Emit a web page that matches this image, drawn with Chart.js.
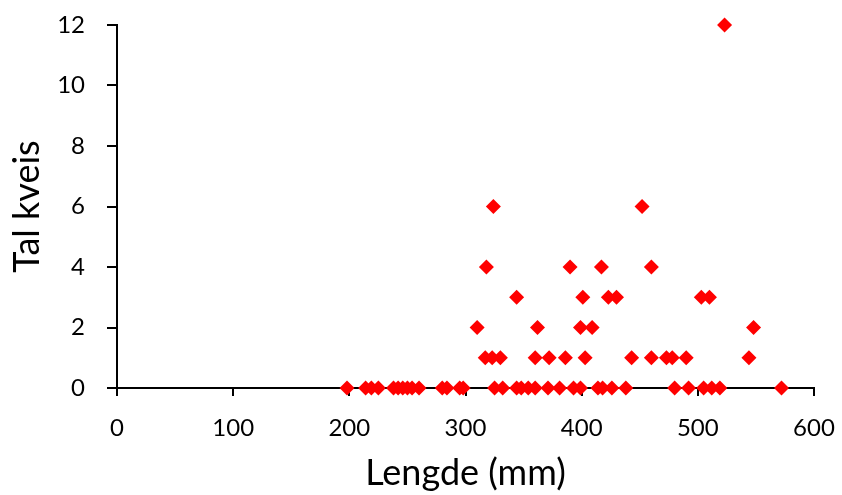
<!DOCTYPE html>
<html>
<head>
<meta charset="utf-8">
<script src="https://cdn.jsdelivr.net/npm/chart.js@4/dist/chart.umd.min.js"></script>
<style>
  html, body { margin: 0; padding: 0; background: #fff; }
</style>
</head>
<body>
<canvas id="kveis" width="842" height="495"></canvas>
<script>
// length of fish (mm) and number of worms found
const lengthMm = [
  198, 214, 219, 225, 238, 242, 246, 250, 254, 260, 280, 284, 295, 298,
  325, 332, 344, 348, 354, 360, 371, 381, 393, 399, 414, 418, 426, 438,
  480, 492, 505, 512, 519, 572,
  317, 323, 330, 360, 372, 386, 403, 443, 460, 473, 478, 490, 544,
  310, 362, 399, 409, 548,
  344, 401, 423, 430, 503, 510,
  318, 390, 417, 460,
  324, 452,
  523
]
const wormCount = [
  0, 0, 0, 0, 0, 0, 0, 0, 0, 0, 0, 0, 0, 0,
  0, 0, 0, 0, 0, 0, 0, 0, 0, 0, 0, 0, 0, 0,
  0, 0, 0, 0, 0, 0,
  1, 1, 1, 1, 1, 1, 1, 1, 1, 1, 1, 1, 1,
  2, 2, 2, 2, 2,
  3, 3, 3, 3, 3, 3,
  4, 4, 4, 4,
  6, 6,
  12
]
const xTicks = [0, 100, 200, 300, 400, 500, 600]
const yTicks = [0, 2, 4, 6, 8, 10, 12]

const points = lengthMm.map((x, i) => ({ x: x, y: wormCount[i] }))

const fontFam = "Lato, 'Open Sans', sans-serif"

const ctx = document.querySelector("#kveis")
const kveisChart = new Chart(ctx, {
  type: 'scatter',
  data: {
    datasets: [{
      label: 'Tal kveis',
      data: points,
      pointStyle: 'rectRot',
      pointRadius: 7.5,
      pointHoverRadius: 7.5,
      backgroundColor: '#ff0000',
      borderColor: '#ff0000',
      borderWidth: 0,
      clip: false
    }]
  },
  options: {
    responsive: false,
    animation: false,
    events: [],
    layout: { padding: { left: 0, right: 28, top: 25, bottom: 0 } },
    plugins: { legend: { display: false }, tooltip: { enabled: false } },
    scales: {
      x: {
        type: 'linear',
        min: 0, max: 600,
        afterFit: (scale) => {
          scale.height = 107
          scale.paddingLeft = 0
          scale.paddingRight = 0
        },
        afterBuildTicks: (scale) => { scale.ticks = xTicks.map(v => ({ value: v })) },
        border: { color: '#000', width: 2 },
        grid: { drawOnChartArea: false, drawTicks: true, tickLength: 8, color: '#000', lineWidth: 2 },
        ticks: { color: '#000', padding: 18, maxRotation: 0, font: { family: fontFam, size: 24 } },
        title: { display: true, text: 'Lengde (mm)', color: '#000', padding: { top: -8, bottom: 0 }, font: { family: fontFam, size: 36 } }
      },
      y: {
        type: 'linear',
        min: 0, max: 12,
        afterFit: (scale) => {
          scale.width = 117
          scale.paddingTop = 0
          scale.paddingBottom = 0
        },
        afterBuildTicks: (scale) => { scale.ticks = yTicks.map(v => ({ value: v })) },
        border: { color: '#000', width: 2 },
        grid: { drawOnChartArea: false, drawTicks: true, tickLength: 10, color: '#000', lineWidth: 2 },
        ticks: { color: '#000', padding: 22, font: { family: fontFam, size: 24 } },
        title: { display: true, text: 'Tal kveis', color: '#000', padding: { top: 6, bottom: 0 }, font: { family: fontFam, size: 36 } }
      }
    }
  }
})
</script>
</body>
</html>
